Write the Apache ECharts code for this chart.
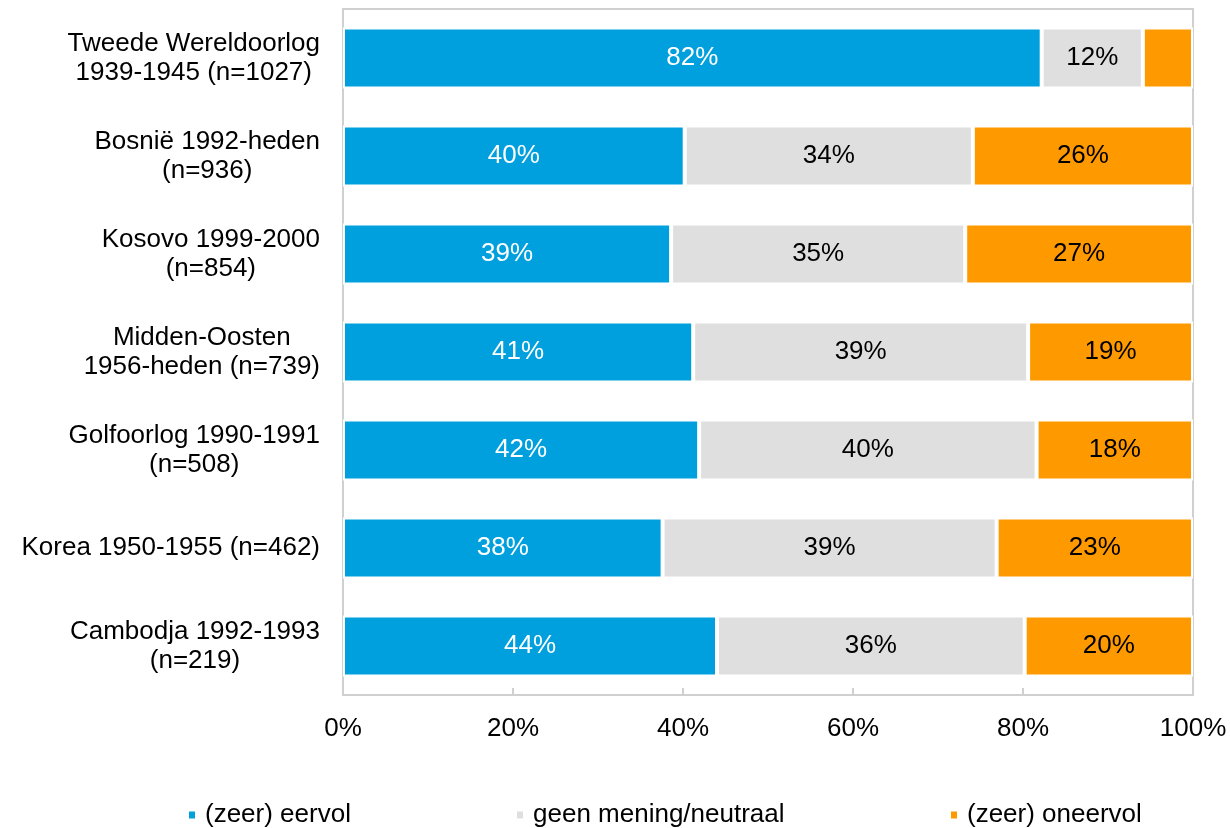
<!DOCTYPE html>
<html>
<head>
<meta charset="utf-8">
<script src="https://cdn.jsdelivr.net/npm/echarts@6/dist/echarts.min.js"></script>
<style>
  html, body { margin: 0; padding: 0; background: #fff; }
  #chart { width: 1230px; height: 828px; }
</style>
</head>
<body>
<div id="chart"></div>
<script>
// categories, top to bottom
var categories = [
  'Tweede Wereldoorlog\n1939-1945 (n=1027)',
  'Bosnië 1992-heden\n(n=936)',
  'Kosovo 1999-2000\n(n=854)',
  'Midden-Oosten\n1956-heden (n=739)',
  'Golfoorlog 1990-1991\n(n=508)',
  'Korea 1950-1955 (n=462)',
  'Cambodja 1992-1993\n(n=219)'
]
var seriesNames = ['(zeer) eervol', 'geen mening/neutraal', '(zeer) oneervol']
var eervol = [82.2, 40.2, 38.6, 41.2, 41.9, 37.6, 44.0]
var neutraal = [11.9, 33.9, 34.6, 39.4, 39.7, 39.3, 36.2]
var oneervol = [5.9, 25.9, 26.8, 19.4, 18.4, 23.1, 19.8]
var xTicks = [0, 20, 40, 60, 80, 100]

var FONT = "'Liberation Sans', Arial, sans-serif"
var FS = 26
var colors = ['#00A0DF', '#DFDFDF', '#FF9900']
var labelColors = ['#ffffff', '#000000', '#000000']

var chart = echarts.init(document.getElementById('chart'))

function makeSeries(idx, data) {
  return {
    name: seriesNames[idx],
    type: 'bar',
    stack: 'total',
    barWidth: 61,
    data: data,
    itemStyle: { color: colors[idx], borderColor: '#ffffff', borderWidth: 2 },
    label: {
      show: true,
      position: 'inside',
      color: labelColors[idx],
      fontFamily: FONT,
      fontSize: FS,
      formatter: function (p) {
        // small segments carry no label in the original
        return p.value < 8 ? '' : Math.round(p.value) + '%'
      }
    }
  }
}

function legendAt(idx, left) {
  return {
    data: [seriesNames[idx]],
    left: left,
    top: 797,
    icon: 'rect',
    itemWidth: 8,
    itemHeight: 9,
    textStyle: { fontFamily: FONT, fontSize: FS, color: '#000', padding: [0, 0, 0, 4] }
  }
}

chart.setOption({
  animation: false,
  textStyle: { fontFamily: FONT },
  grid: {
    left: 343,
    right: 37,
    top: 9,
    bottom: 133,
    show: true,
    borderColor: '#d0d0d0',
    borderWidth: 2
  },
  legend: [legendAt(0, 182), legendAt(1, 510), legendAt(2, 944)],
  xAxis: {
    type: 'value',
    min: xTicks[0],
    max: xTicks[xTicks.length - 1],
    interval: 20,
    axisLine: { show: true, lineStyle: { color: '#d0d0d0', width: 2 } },
    axisTick: { show: true, inside: true, length: 7, lineStyle: { color: '#d0d0d0', width: 2 } },
    splitLine: { show: false },
    axisLabel: {
      margin: 21,
      color: '#000',
      fontFamily: FONT,
      fontSize: FS,
      formatter: '{value}%'
    }
  },
  yAxis: {
    type: 'category',
    inverse: true,
    data: categories,
    axisLine: { show: true, lineStyle: { color: '#d0d0d0', width: 2 } },
    axisTick: { show: false },
    axisLabel: {
      margin: 23,
      color: '#000',
      formatter: function (v) {
        return v.split('\n').map(function (s) { return '{c|' + s + '}' }).join('\n')
      },
      rich: {
        c: { align: 'center', fontFamily: FONT, fontSize: FS, lineHeight: 29, color: '#000' }
      }
    }
  },
  series: [
    makeSeries(0, eervol),
    makeSeries(1, neutraal),
    makeSeries(2, oneervol)
  ]
})
</script>
</body>
</html>
